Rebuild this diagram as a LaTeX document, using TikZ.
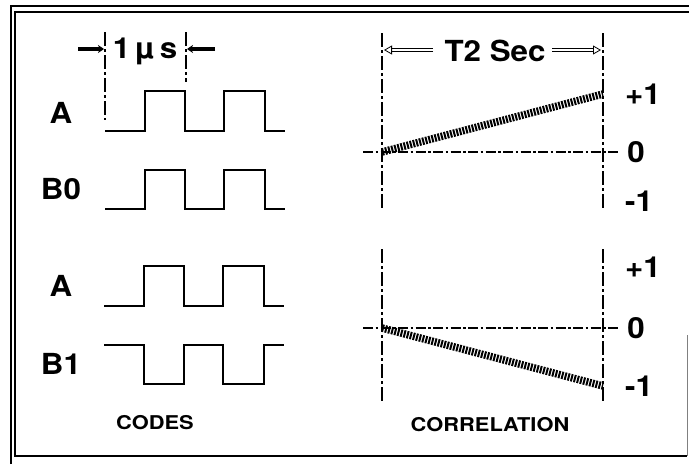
\documentclass[tikz,border=0pt]{standalone}
\usepackage{fontspec}
\setmainfont{TeX Gyre Heros}
\usetikzlibrary{arrows.meta}
\newcommand{\bigtxt}[1]{\scalebox{1.08}[1]{\bfseries\fontsize{29}{29}\selectfont #1}}
\newcommand{\smalltxt}[1]{\scalebox{1.15}[1]{\bfseries\fontsize{19}{19}\selectfont #1}}
\tikzset{
  lbl/.style={inner sep=0pt},
  wave/.style={line width=2.2pt, line join=miter},
  dashdot/.style={line width=1.5pt, dash pattern=on 10pt off 2.5pt on 2.5pt off 2.5pt},
  vdash/.style={line width=1.5pt, dash pattern=on 14pt off 3pt on 3pt off 3pt},
  ramp/.style={line width=7.5pt, dash pattern=on 2pt off 1.2pt},
  frame/.style={line width=2pt},
  dimarrow/.style={line width=3.2pt, -{Stealth[length=6pt,width=8pt]}},
  openarrow/.style={double, double distance=2.4pt, line width=0.8pt, -{Triangle[open,length=8pt,width=9pt]}},
}
\begin{document}
\begin{tikzpicture}[x=1pt,y=-1pt]
\useasboundingbox (0,0) rectangle (689,464);
% frame
\draw[frame] (11,464) -- (11,6) -- (689,6);
\draw[line width=1.6pt] (689,12) -- (15,12) -- (15,456) -- (687,456);
\draw[line width=0.6pt, gray] (687,335) -- (687,456);

% CODES labels
\node[lbl] (la1) at (61,113) {\bigtxt{A}};
\node[lbl] (lb0) at (61,189) {\bigtxt{B0}};
\node[lbl] (la2) at (61,286) {\bigtxt{A}};
\node[lbl] (lb1) at (61,364) {\bigtxt{B1}};

% waveforms
\draw[wave] (105,131) -- (145,131) -- (145,91) -- (185,91) -- (185,131) -- (224,131) -- (224,91) -- (265,91) -- (265,131) -- (285,131);
\draw[wave] (105,209) -- (145,209) -- (145,170) -- (185,170) -- (185,209) -- (224,209) -- (224,170) -- (265,170) -- (265,209) -- (285,209);
\draw[wave] (104,306) -- (144,306) -- (144,266) -- (184,266) -- (184,306) -- (223,306) -- (223,266) -- (264,266) -- (264,306) -- (284,306);
\draw[wave] (104,345) -- (144,345) -- (144,384) -- (184,384) -- (184,345) -- (223,345) -- (223,384) -- (264,384) -- (264,345) -- (284,345);

% 1 us dimension
\coordinate (t0) at (105,32);
\coordinate (t0b) at (105,120);
\coordinate (t1) at (186,32);
\coordinate (t1b) at (186,82);
\draw[vdash] (t0) -- (t0b);
\draw[vdash] (t1) -- (t1b);
\node[lbl] (us) at (145,51) {\bigtxt{1\,µ\,s}};
\coordinate (al) at (78,49);
\coordinate (ar) at (215,49);
\draw[dimarrow] (al) -- (104,49);
\draw[dimarrow] (ar) -- (187,49);
\node[lbl] (codes) at (155,423) {\smalltxt{CODES}};

% CORRELATION top
\coordinate (c1t) at (382,33);
\coordinate (c1b) at (382,210);
\coordinate (c2t) at (603,33);
\coordinate (c2b) at (603,210);
\draw[vdash] (c1t) -- (c1b);
\draw[vdash] (c2t) -- (c2b);
\coordinate (z1l) at (363,152);
\coordinate (z1r) at (620,152);
\draw[dashdot] (z1l) -- (z1r);
\node[lbl] (t2) at (495,51) {\bigtxt{T2 Sec}};
\draw[openarrow] (433,50) -- (384,50);
\draw[openarrow] (552,50) -- (601,50);
\coordinate (r1s) at (382,152);
\coordinate (r1e) at (603,94);
\draw[ramp] (r1s) -- (r1e);
\node[lbl] (p1a) at (643,94) {\bigtxt{+1}};
\node[lbl] (z1a) at (636,152) {\bigtxt{0}};
\node[lbl] (m1a) at (639,201) {\bigtxt{-1}};

% CORRELATION bottom
\coordinate (d1t) at (382,249);
\coordinate (d1b) at (382,404);
\coordinate (d2t) at (603,249);
\coordinate (d2b) at (603,404);
\draw[vdash] (d1t) -- (d1b);
\draw[vdash] (d2t) -- (d2b);
\coordinate (z2l) at (363,328);
\coordinate (z2r) at (620,328);
\draw[dashdot] (z2l) -- (z2r);
\coordinate (r2s) at (382,328);
\coordinate (r2e) at (603,386);
\draw[ramp] (r2s) -- (r2e);
\node[lbl] (p1b) at (643,267) {\bigtxt{+1}};
\node[lbl] (z1b) at (636,328) {\bigtxt{0}};
\node[lbl] (m1b) at (639,386) {\bigtxt{-1}};
\node[lbl] (corr) at (490,425) {\smalltxt{CORRELATION}};
\end{tikzpicture}
\end{document}
